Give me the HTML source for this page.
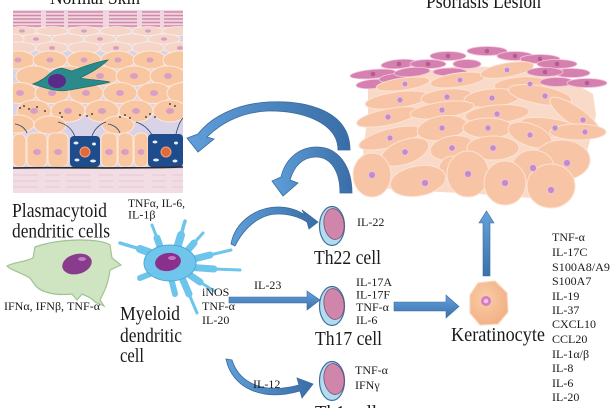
<!DOCTYPE html>
<html><head><meta charset="utf-8"><style>
html,body{margin:0;padding:0;background:#fff;}
svg{display:block;}
text{font-family:"Liberation Serif","DejaVu Serif",serif;fill:#1a1a1a;}
</style></head><body>
<svg width="612" height="408" viewBox="0 0 612 408" xmlns="http://www.w3.org/2000/svg">
<defs>
<clipPath id="skin"><rect x="13" y="10" width="170" height="183"/></clipPath>
<linearGradient id="ag" x1="0" y1="0" x2="0" y2="1"><stop offset="0" stop-color="#64a3dc"/><stop offset="1" stop-color="#3b70ab"/></linearGradient>
<linearGradient id="ag2" x1="0" y1="0" x2="1" y2="0"><stop offset="0" stop-color="#5f9fda"/><stop offset="1" stop-color="#3a6da6"/></linearGradient>
<radialGradient id="kg" cx="0.4" cy="0.4" r="0.7"><stop offset="0" stop-color="#f9cda8"/><stop offset="1" stop-color="#f1ad80"/></radialGradient>
</defs>

<!-- ===== NORMAL SKIN ===== -->
<g clip-path="url(#skin)">
<rect x="13" y="10" width="170" height="183" fill="#d9d3e8"/>
<rect x="13" y="10" width="170" height="18" fill="#f1d6e0"/>
<path d="M13 12 H183 M13 15.5 H183 M13 19 H183 M13 22.5 H183 M13 26 H183" stroke="#cf88a8" stroke-width="1.5" stroke-dasharray="28 5 18 4 35 6"/>
<g fill="#f6d5c9" stroke="#fbeee8" stroke-width="0.8">
<ellipse cx="22" cy="31" rx="16" ry="4.5"/><ellipse cx="52" cy="31" rx="16" ry="4.5"/><ellipse cx="84" cy="31" rx="16" ry="4.5"/><ellipse cx="116" cy="31" rx="16" ry="4.5"/><ellipse cx="148" cy="31" rx="16" ry="4.5"/><ellipse cx="178" cy="31" rx="16" ry="4.5"/>
<ellipse cx="36" cy="39" rx="16" ry="5"/><ellipse cx="68" cy="39" rx="16" ry="5"/><ellipse cx="100" cy="39" rx="16" ry="5"/><ellipse cx="132" cy="39" rx="16" ry="5"/><ellipse cx="164" cy="39" rx="16" ry="5"/><ellipse cx="14" cy="39" rx="10" ry="5"/>
<ellipse cx="20" cy="48" rx="16" ry="6"/><ellipse cx="52" cy="48" rx="16" ry="6"/><ellipse cx="84" cy="48" rx="16" ry="6"/><ellipse cx="116" cy="48" rx="16" ry="6"/><ellipse cx="148" cy="48" rx="16" ry="6"/><ellipse cx="180" cy="48" rx="16" ry="6"/>
</g>
<g fill="#f8c7a1" stroke="#fde7d8" stroke-width="1">
<ellipse cx="18" cy="60" rx="17" ry="9"/><ellipse cx="50" cy="60" rx="17" ry="9"/><ellipse cx="84" cy="60" rx="17" ry="9"/><ellipse cx="118" cy="60" rx="17" ry="9"/><ellipse cx="150" cy="60" rx="17" ry="9"/><ellipse cx="180" cy="60" rx="17" ry="9"/>
<ellipse cx="34" cy="76" rx="18" ry="10"/><ellipse cx="68" cy="76" rx="18" ry="10"/><ellipse cx="100" cy="76" rx="18" ry="10"/><ellipse cx="134" cy="76" rx="18" ry="10"/><ellipse cx="168" cy="76" rx="18" ry="10"/>
<ellipse cx="20" cy="93" rx="17" ry="10.5"/><ellipse cx="52" cy="93" rx="17" ry="10.5"/><ellipse cx="86" cy="93" rx="17" ry="10.5"/><ellipse cx="120" cy="93" rx="17" ry="10.5"/><ellipse cx="154" cy="93" rx="17" ry="10.5"/><ellipse cx="184" cy="93" rx="17" ry="10.5"/>
<ellipse cx="34" cy="111" rx="17" ry="11"/><ellipse cx="68" cy="111" rx="17" ry="11"/><ellipse cx="102" cy="111" rx="17" ry="11"/><ellipse cx="136" cy="111" rx="17" ry="11"/><ellipse cx="170" cy="111" rx="17" ry="11"/>
<ellipse cx="18" cy="124" rx="16" ry="9"/><ellipse cx="50" cy="125" rx="16" ry="9"/><ellipse cx="118" cy="125" rx="16" ry="9"/>
<rect x="13" y="134" width="13" height="33" rx="6"/><rect x="27" y="133" width="20" height="34" rx="6"/><rect x="48" y="133" width="20" height="34" rx="6"/><rect x="101" y="133" width="16" height="34" rx="6"/><rect x="118" y="133" width="15" height="34" rx="6"/><rect x="134" y="133" width="14" height="34" rx="6"/>
</g>
<g fill="#d99fc3">
<ellipse cx="22" cy="31" rx="3" ry="1.6"/><ellipse cx="84" cy="31" rx="3" ry="1.6"/><ellipse cx="148" cy="31" rx="3" ry="1.6"/>
<ellipse cx="36" cy="39" rx="3" ry="1.8"/><ellipse cx="100" cy="39" rx="3" ry="1.8"/><ellipse cx="164" cy="39" rx="3" ry="1.8"/>
<ellipse cx="52" cy="48" rx="3" ry="2"/><ellipse cx="116" cy="48" rx="3" ry="2"/><ellipse cx="180" cy="48" rx="3" ry="2"/>
<ellipse cx="18" cy="60" rx="3.5" ry="2.5"/><ellipse cx="50" cy="60" rx="3.5" ry="2.5"/><ellipse cx="84" cy="60" rx="3.5" ry="2.5"/><ellipse cx="118" cy="60" rx="3.5" ry="2.5"/><ellipse cx="150" cy="60" rx="3.5" ry="2.5"/>
<ellipse cx="100" cy="76" rx="4" ry="3"/><ellipse cx="134" cy="76" rx="4" ry="3"/><ellipse cx="168" cy="76" rx="4" ry="3"/>
<ellipse cx="20" cy="93" rx="4" ry="3"/><ellipse cx="52" cy="93" rx="4" ry="3"/><ellipse cx="86" cy="93" rx="4" ry="3"/><ellipse cx="120" cy="93" rx="4" ry="3"/><ellipse cx="154" cy="93" rx="4" ry="3"/>
<ellipse cx="34" cy="111" rx="4" ry="3"/><ellipse cx="68" cy="111" rx="4" ry="3"/><ellipse cx="102" cy="111" rx="4" ry="3"/><ellipse cx="136" cy="111" rx="4" ry="3"/><ellipse cx="170" cy="111" rx="4" ry="3"/>
<ellipse cx="37" cy="152" rx="4" ry="3"/><ellipse cx="58" cy="152" rx="4" ry="3"/><ellipse cx="109" cy="152" rx="4" ry="3"/><ellipse cx="125" cy="152" rx="4" ry="3"/><ellipse cx="141" cy="152" rx="3.5" ry="3"/>
</g>
<!-- Langerhans cell -->
<path d="M33 84 C45 80 50 72 55 70 C62 66 66 70 72 71 C80 68 95 62 108 60 C100 68 88 74 80 78 C90 80 100 80 110 82 C95 86 80 88 70 90 C60 92 50 90 33 84 Z" fill="#2b8a8a" stroke="#1f6f72" stroke-width="0.8"/>
<ellipse cx="57" cy="81" rx="9" ry="7" fill="#5a2a88"/>
<!-- melanocyte dendrites -->
<g fill="none" stroke="#24406a" stroke-width="0.8">
<path d="M75 137 C72 128 66 124 58 122"/><path d="M92 136 C95 128 100 124 106 122"/><path d="M152 135 C148 128 142 124 136 122"/><path d="M176 134 C178 126 180 121 183 118"/><path d="M27 133 C25 128 21 125 15 124"/><path d="M120 133 C118 128 114 125 108 124"/>
</g>
<g fill="#222">
<circle cx="20" cy="108" r="0.9"/><circle cx="24" cy="106" r="0.9"/><circle cx="29" cy="109" r="0.9"/><circle cx="37" cy="107" r="0.9"/><circle cx="45" cy="111" r="0.9"/><circle cx="60" cy="113" r="0.9"/><circle cx="62" cy="117" r="0.9"/><circle cx="80" cy="115" r="0.9"/><circle cx="87" cy="116" r="0.9"/><circle cx="92" cy="114" r="0.9"/><circle cx="120" cy="117" r="0.9"/><circle cx="125" cy="115" r="0.9"/><circle cx="130" cy="118" r="0.9"/><circle cx="146" cy="117" r="0.9"/><circle cx="150" cy="114" r="0.9"/><circle cx="155" cy="117" r="0.9"/><circle cx="170" cy="104" r="0.9"/><circle cx="175" cy="106" r="0.9"/>
</g>
<!-- melanocytes -->
<rect x="70" y="136" width="30" height="31" rx="4" fill="#1e4c8c"/>
<rect x="148" y="134" width="35" height="33" rx="4" fill="#1e4c8c"/>
<g fill="#e8eef8">
<ellipse cx="76" cy="143" rx="2.5" ry="1.5"/><ellipse cx="94" cy="144" rx="2" ry="1.5"/><ellipse cx="77" cy="160" rx="2.5" ry="1.5"/><ellipse cx="93" cy="161" rx="3" ry="1.5"/>
<ellipse cx="155" cy="142" rx="2.5" ry="1.5"/><ellipse cx="176" cy="143" rx="2" ry="1.5"/><ellipse cx="156" cy="160" rx="3" ry="1.5"/><ellipse cx="175" cy="161" rx="2.5" ry="1.5"/>
</g>
<circle cx="85" cy="152" r="5" fill="#e06a3c" stroke="#f3a47f" stroke-width="1"/>
<circle cx="166" cy="152" r="5" fill="#e06a3c" stroke="#f3a47f" stroke-width="1"/>
<!-- dermis -->
<rect x="13" y="169" width="170" height="24" fill="#f1dde3"/>
<path d="M13 175 H183 M13 181 H183 M13 187 H183" stroke="#e9ccd6" stroke-width="1.2" stroke-dasharray="25 8 14 6"/>
<path d="M13 168 C60 167 120 169 183 167" stroke="#2a2a2a" stroke-width="1.6" fill="none"/>
</g>

<!-- ===== PSORIASIS LESION ===== -->
<path d="M368,88 L400,74 L460,66 L520,68 L565,78 L593,94 L596,115 L590,140 L583,168 L562,194 L530,198 L480,194 L440,192 L395,190 L366,184 L363,150 L368,115 Z" fill="#f9dac8"/>
<g fill="#d680b0" stroke="#f3c6dc" stroke-width="0.8">
<ellipse cx="373" cy="74" rx="23" ry="4.5" transform="rotate(-5 373 74)"/>
<ellipse cx="399" cy="64" rx="18" ry="4.5" transform="rotate(-5 399 64)"/>
<ellipse cx="428" cy="64" rx="18" ry="4.5"/>
<ellipse cx="448" cy="56" rx="18" ry="4.5"/>
<ellipse cx="467" cy="64" rx="14" ry="4.5"/>
<ellipse cx="487" cy="51" rx="20" ry="4.5"/>
<ellipse cx="515" cy="56" rx="18" ry="4.5"/>
<ellipse cx="540" cy="59" rx="20" ry="4.5"/>
<ellipse cx="557" cy="64" rx="20" ry="4.5"/>
<ellipse cx="572" cy="73" rx="18" ry="4.5"/>
<ellipse cx="373" cy="84" rx="17" ry="4.5" transform="rotate(-5 373 84)"/>
<ellipse cx="396" cy="78" rx="17" ry="4.5" transform="rotate(-5 396 78)"/>
<ellipse cx="412" cy="72" rx="18" ry="4.5" transform="rotate(-5 412 72)"/>
<ellipse cx="450" cy="72" rx="17" ry="4"/>
</g>
<g fill="#f7c5a5" stroke="#fde2d2" stroke-width="1">
<ellipse cx="403" cy="84" rx="27" ry="6" transform="rotate(-8 403 84)"/>
<ellipse cx="458" cy="80" rx="28" ry="7" transform="rotate(-8 458 80)"/>
<ellipse cx="507" cy="70" rx="27" ry="7" transform="rotate(-10 507 70)"/>
<ellipse cx="520" cy="84" rx="26" ry="7" transform="rotate(-5 520 84)"/>
</g>
<g fill="#d680b0" stroke="#f3c6dc" stroke-width="0.8">
<ellipse cx="545" cy="72" rx="18" ry="4.5"/>
<ellipse cx="557" cy="82" rx="17" ry="4.5"/>
<ellipse cx="587" cy="83" rx="20" ry="4.5"/>
</g>
<g fill="#f7c5a5" stroke="#fde2d2" stroke-width="1">
<ellipse cx="397" cy="100" rx="32" ry="8" transform="rotate(-8 397 100)"/>
<ellipse cx="447" cy="97" rx="26" ry="8" transform="rotate(-5 447 97)"/>
<ellipse cx="492" cy="98" rx="28" ry="9" transform="rotate(-5 492 98)"/>
<ellipse cx="540" cy="95" rx="32" ry="9" transform="rotate(10 540 95)"/>
<ellipse cx="575" cy="116" rx="30" ry="9" transform="rotate(35 575 116)"/>
<ellipse cx="388" cy="117" rx="32" ry="8" transform="rotate(-12 388 117)"/>
<ellipse cx="442" cy="110" rx="32" ry="8" transform="rotate(-8 442 110)"/>
<ellipse cx="497" cy="114" rx="32" ry="9" transform="rotate(-5 497 114)"/>
<ellipse cx="553" cy="128" rx="33" ry="9" transform="rotate(10 553 128)"/>
<ellipse cx="390" cy="138" rx="32" ry="9" transform="rotate(-15 390 138)"/>
<ellipse cx="442" cy="128" rx="25" ry="12" transform="rotate(-10 442 128)"/>
<ellipse cx="488" cy="128" rx="25" ry="10"/>
<ellipse cx="530" cy="135" rx="23" ry="11" transform="rotate(20 530 135)"/>
<ellipse cx="578" cy="132" rx="28" ry="8"/>
<ellipse cx="405" cy="152" rx="25" ry="12" transform="rotate(-20 405 152)"/>
<ellipse cx="452" cy="148" rx="22" ry="12" transform="rotate(-10 452 148)"/>
<ellipse cx="493" cy="148" rx="26" ry="12"/>
<ellipse cx="562" cy="160" rx="28" ry="20"/>
<ellipse cx="533" cy="168" rx="21" ry="18"/>
<ellipse cx="453" cy="168" rx="14" ry="12"/>
<ellipse cx="372" cy="175" rx="19" ry="22"/>
<ellipse cx="418" cy="181" rx="28" ry="15" transform="rotate(-10 418 181)"/>
<ellipse cx="468" cy="174" rx="21" ry="23"/>
<ellipse cx="505" cy="183" rx="21" ry="22"/>
<ellipse cx="551" cy="186" rx="24" ry="22"/>
</g>
<g fill="#b35c92">
<circle cx="373" cy="74" r="2.3"/><circle cx="399" cy="64" r="2.3"/><circle cx="428" cy="64" r="2.3"/><circle cx="448" cy="56" r="2.3"/><circle cx="487" cy="51" r="2.3"/><circle cx="515" cy="56" r="2.3"/><circle cx="540" cy="59" r="2.3"/><circle cx="557" cy="64" r="2.3"/><circle cx="545" cy="72" r="2.3"/><circle cx="587" cy="83" r="2.3"/>
</g>
<g fill="#c58ac7" stroke="#e9c8ea" stroke-width="0.8">
<circle cx="405" cy="84" r="2.8"/><circle cx="460" cy="80" r="2.8"/><circle cx="507" cy="70" r="2.8"/><circle cx="530" cy="84" r="2.8"/>
<circle cx="400" cy="100" r="3"/><circle cx="447" cy="97" r="3"/><circle cx="492" cy="98" r="3"/><circle cx="545" cy="96" r="3"/><circle cx="583" cy="120" r="3"/>
<circle cx="388" cy="117" r="3"/><circle cx="442" cy="110" r="3"/><circle cx="497" cy="114" r="3"/><circle cx="555" cy="128" r="3"/>
<circle cx="390" cy="138" r="3"/><circle cx="442" cy="128" r="3"/><circle cx="488" cy="128" r="3"/><circle cx="530" cy="135" r="3"/><circle cx="585" cy="132" r="3"/>
<circle cx="405" cy="152" r="3.2"/><circle cx="452" cy="148" r="3.2"/><circle cx="493" cy="148" r="3.2"/>
<circle cx="567" cy="163" r="3.5"/><circle cx="533" cy="168" r="3.5"/><circle cx="372" cy="175" r="3.5"/><circle cx="425" cy="183" r="3.5"/><circle cx="468" cy="174" r="3.5"/><circle cx="505" cy="183" r="3.5"/><circle cx="551" cy="190" r="3.5"/>
</g>

<!-- ===== ARROWS ===== -->
<g fill="url(#ag2)" stroke="#3a6a9e" stroke-width="0.8">
<path d="M350,150 C350,110 305,100 268,102 C236,104 211,117 198,134 L187,138 L198,152 L214,139 L207,137 C222,122 243,112 268,111 C300,110 338,122 338,150 Z"/>
<path d="M352,193 C352,166 338,147 317,147 C298,147 285,160 281,177 L272,181 L283,196 L298,183 L290,180 C294,166 303,157 316,157 C330,157 340,170 340,193 Z"/>
<path d="M231,244 C235,222 256,207 278,207 C291,207 299,211 305,215 L302,210 L318,222 L309,229 L307,222 C299,217 290,214 278,214 C261,214 245,226 235,246 Z"/>
<path d="M226,359 C232,388 262,402 300,391 L302,398 L313,384 L297,378 L299,385 C266,394 240,385 232,360 Z"/>
</g>
<g fill="url(#ag)" stroke="#3a6a9e" stroke-width="0.6">
<path d="M229,297 H307 V291 L320,300 L307,310 V303 H229 Z"/>
<path d="M394,302 H446 V295 L459,306.5 L446,318 V311 H394 Z"/>
<path d="M483,276 V223 H479 L486.5,211 L494,223 H490 V276 Z"/>
</g>

<!-- ===== pDC (green) ===== -->
<path d="M35,247 C60,238 100,238 110,245 L112,258 L121,265 L110,270 C108,285 104,292 100,300 L104,306 L95,302 C90,296 85,296 82,294 L77,300 L72,294 C55,296 40,292 35,285 L30,278 C20,272 10,270 7,266 C14,262 25,262 33,258 Z" fill="#cfe4c0" stroke="#9fc393" stroke-width="1.2"/>
<ellipse cx="77" cy="264" rx="15" ry="10" transform="rotate(-15 77 264)" fill="#8a3c8c"/>
<ellipse cx="82" cy="259" rx="4" ry="2" fill="#c27ec2"/>

<!-- ===== Myeloid DC (blue) ===== -->
<g stroke="#6ec5ec" stroke-linecap="round" fill="none">
<path d="M165 258 L140 249" stroke-width="8"/><path d="M140 249 L120 243" stroke-width="3.5"/>
<path d="M163 255 L157 238" stroke-width="7"/><path d="M157 238 L152 225" stroke-width="3"/>
<path d="M175 255 L181 235" stroke-width="8"/><path d="M181 235 L185 221" stroke-width="3.5"/>
<path d="M182 257 L194 243" stroke-width="7"/><path d="M194 243 L203 233" stroke-width="3"/>
<path d="M186 261 L210 255" stroke-width="7"/><path d="M210 255 L231 250" stroke-width="3"/>
<path d="M186 267 L214 269" stroke-width="7"/><path d="M214 269 L240 270" stroke-width="3"/>
<path d="M184 271 L200 282" stroke-width="7"/><path d="M200 282 L214 291" stroke-width="3"/>
<path d="M180 273 L189 294" stroke-width="7"/><path d="M189 294 L197 313" stroke-width="3"/>
<path d="M170 274 L175 294" stroke-width="6"/>
<path d="M160 270 L140 278" stroke-width="6"/>
</g>
<ellipse cx="170" cy="263" rx="26" ry="18" fill="#70c5ec" stroke="#4aa9d9" stroke-width="1"/>
<ellipse cx="168" cy="262" rx="13" ry="9" transform="rotate(-10 168 262)" fill="#8b2f8c"/>
<ellipse cx="172" cy="258" rx="4" ry="2" fill="#c477c4"/>

<!-- ===== T cells ===== -->
<g stroke="#3f6f99" stroke-width="1.2" fill="#b3dcf0">
<ellipse cx="332" cy="226" rx="12.5" ry="19.5"/>
<ellipse cx="332" cy="306" rx="12.5" ry="19.5"/>
<ellipse cx="332" cy="381" rx="12.5" ry="19.5"/>
</g>
<g stroke="#7a4f78" stroke-width="0.8" fill="#cf86aa">
<ellipse cx="334" cy="224" rx="10" ry="15.5" transform="rotate(-8 334 224)"/>
<ellipse cx="334" cy="304" rx="10" ry="15.5" transform="rotate(-8 334 304)"/>
<ellipse cx="334" cy="379" rx="10" ry="15.5" transform="rotate(-8 334 379)"/>
</g>

<!-- ===== Keratinocyte ===== -->
<polygon points="470,295 478,283 495,281 507,293 508,312 498,324 480,325 470,313" fill="url(#kg)" stroke="#f8d6bd" stroke-width="1.2"/>
<circle cx="486" cy="301" r="5" fill="#d67cc4"/>
<circle cx="486" cy="301" r="2.3" fill="#f0bfe6"/>

<!-- ===== TEXT ===== -->
<text x="50" y="4" font-size="20" textLength="90" lengthAdjust="spacingAndGlyphs">Normal Skin</text>
<text x="426" y="8" font-size="20" textLength="115" lengthAdjust="spacingAndGlyphs">Psoriasis Lesion</text>
<text x="12" y="217" font-size="20" textLength="95" lengthAdjust="spacingAndGlyphs">Plasmacytoid</text>
<text x="12" y="237.5" font-size="20" textLength="98" lengthAdjust="spacingAndGlyphs">dendritic cells</text>
<text x="128" y="207" font-size="12" textLength="57" lengthAdjust="spacingAndGlyphs">TNFα, IL-6,</text>
<text x="128" y="218.5" font-size="12">IL-1β</text>
<text x="4" y="310" font-size="11.5" textLength="96" lengthAdjust="spacingAndGlyphs">IFNα, IFNβ, TNF-α</text>
<text x="120" y="320" font-size="20" textLength="60" lengthAdjust="spacingAndGlyphs">Myeloid</text>
<text x="120" y="342" font-size="20" textLength="62" lengthAdjust="spacingAndGlyphs">dendritic</text>
<text x="120" y="362" font-size="20" textLength="24" lengthAdjust="spacingAndGlyphs">cell</text>
<g font-size="12">
<text x="202" y="296">iNOS</text>
<text x="202" y="310">TNF-α</text>
<text x="202" y="324">IL-20</text>
<text x="254" y="289">IL-23</text>
<text x="357" y="226">IL-22</text>
<text x="356" y="286">IL-17A</text>
<text x="356" y="298.5">IL-17F</text>
<text x="356" y="311">TNF-α</text>
<text x="356" y="324">IL-6</text>
<text x="253" y="388">IL-12</text>
<text x="355" y="374">TNF-α</text>
<text x="355" y="389">IFNγ</text>
</g>
<text x="314" y="264" font-size="20" textLength="67" lengthAdjust="spacingAndGlyphs">Th22 cell</text>
<text x="315" y="345" font-size="20" textLength="67" lengthAdjust="spacingAndGlyphs">Th17 cell</text>
<text x="315" y="419" font-size="20" textLength="62" lengthAdjust="spacingAndGlyphs">Th1 cell</text>
<text x="451" y="341" font-size="20" textLength="94" lengthAdjust="spacingAndGlyphs">Keratinocyte</text>
<g font-size="12">
<text x="552" y="241">TNF-α</text>
<text x="552" y="256">IL-17C</text>
<text x="552" y="271" textLength="58" lengthAdjust="spacingAndGlyphs">S100A8/A9</text>
<text x="552" y="285">S100A7</text>
<text x="552" y="300">IL-19</text>
<text x="552" y="314">IL-37</text>
<text x="552" y="328">CXCL10</text>
<text x="552" y="343">CCL20</text>
<text x="552" y="358">IL-1α/β</text>
<text x="552" y="372">IL-8</text>
<text x="552" y="387">IL-6</text>
<text x="552" y="401">IL-20</text>
</g>
</svg>
</body></html>
